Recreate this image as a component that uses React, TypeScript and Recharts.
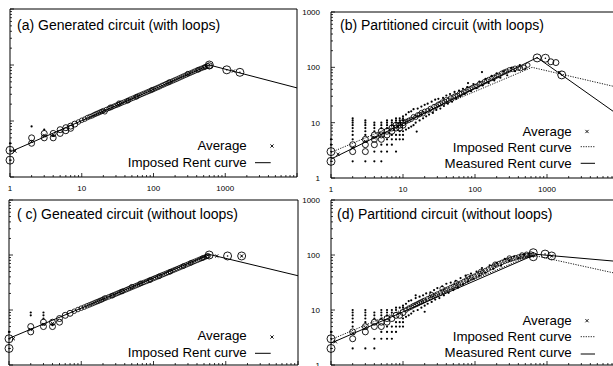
import React from 'react';
import { ScatterChart, Scatter, XAxis, YAxis } from 'recharts';

type P = [number, number];

// ---------- axis ticks ----------
const xTicks = [1, 2, 3, 4, 5, 6, 7, 8, 9, 10, 20, 30, 40, 50, 60, 70, 80, 90, 100, 200, 300, 400, 500, 600, 700, 800, 900, 1000, 2000, 3000, 4000, 5000, 6000, 7000, 8000, 9000, 10000];
const yTicks = [1, 2, 3, 4, 5, 6, 7, 8, 9, 10, 20, 30, 40, 50, 60, 70, 80, 90, 100, 200, 300, 400, 500, 600, 700, 800, 900, 1000];
const xLabels = [1, 10, 100, 1000];
const yLabels = [1, 10, 100, 1000];

// ---------- panel (a) ----------
const aImposed: P[] = [[1, 2.8], [600, 100], [10000, 39]];
const aBig: P[] = [[1, 3], [1, 2], [600, 100], [1050, 82], [1600, 74]];
const aMed: P[] = [[2, 5], [2, 4], [3, 6], [3, 5], [4, 6], [4, 5], [5, 7], [5, 6], [6, 7.6], [6, 6.7], [7, 8.1], [7, 7.4], [8, 8.8], [600, 97]];
const aSmall: P[] = [[9, 9.6], [10, 10.3], [11, 10.8], [12, 11.5], [13, 12], [14, 12.4], [15, 13], [16, 13.5], [17, 13.9], [18, 14.4], [19, 14.8], [20, 15.3], [21, 14.6], [22, 16], [24, 16.8], [25, 17.6], [26, 17.5], [28, 18.3], [30, 19], [32, 19.6], [33, 20.8], [34, 20.3], [36, 21], [39, 21.8], [42, 22.7], [44, 23], [45, 23.6], [48, 24.6], [52, 25.6], [56, 26.7], [58, 27], [60, 27.8], [64, 28.8], [69, 30], [74, 31.2], [80, 32.5], [86, 33.8], [92, 35], [95, 36], [99, 36.5], [106, 38], [114, 39.5], [122, 41], [131, 43], [140, 44.5], [150, 46.5], [160, 48], [165, 49.5], [172, 50], [185, 52], [198, 54], [212, 56], [228, 58.5], [245, 61], [262, 63.5], [282, 66], [300, 70], [303, 69], [325, 71.5], [350, 74.5], [375, 77.5], [405, 81], [420, 82], [435, 84], [465, 87], [500, 90], [520, 92], [535, 93.5], [570, 97]];
const aDots: P[] = [[1, 4], [2, 8], [3, 7], [4, 5.4]];
const aAvg: P[] = [[1.17, 2.9], [2, 4.3], [3, 5.5], [4, 5.6], [1300, 78]];

// ---------- panel (b) ----------
const bImposed: P[] = [[1, 2.9], [620, 100], [10000, 43]];
const bMeasured: P[] = [[1, 2.2], [730, 150], [10000, 13.5]];
const bBig: P[] = [[1, 2], [1, 3], [730, 148], [950, 146], [1600, 73]];
const bMed: P[] = [[2, 3], [2, 4], [3, 3], [3, 4], [3, 5], [4, 4], [4, 5], [4, 6], [5, 5], [5, 6], [5, 7], [6, 6], [6, 7], [7, 7], [7, 8], [8, 8], [8, 9], [9, 8], [9, 9], [10, 9], [10, 10], [1130, 126], [1330, 122]];
const bSmall: P[] = [[11, 10.5], [12, 11], [13, 11.5], [14, 12.8], [15, 12.5], [16, 13.8], [17, 14], [18, 15.2], [19, 14.5], [20, 16], [22, 16.5], [24, 18], [25, 17], [27, 19.5], [29, 20], [31, 21.5], [33, 22], [35, 23.5], [38, 24], [40, 26], [43, 25.5], [46, 28], [50, 29], [53, 30.5], [57, 31], [61, 33.5], [65, 34], [70, 36], [75, 37], [80, 40], [86, 41], [92, 43], [100, 45], [107, 46], [115, 50], [125, 51], [135, 55], [145, 57], [155, 60], [170, 63], [185, 66], [200, 70], [215, 72], [235, 78], [255, 82], [275, 85], [300, 90], [330, 92], [360, 96], [400, 97], [430, 95], [480, 100], [540, 110]];
const bDots: P[] = [
  [1, 4], [1, 5],
  [2, 2], [2, 5], [2, 6], [2, 7], [2, 8], [2, 9], [2, 10], [2, 11], [2, 12],
  [3, 2], [3, 6], [3, 7], [3, 8], [3, 9], [3, 10], [3, 11],
  [4, 2], [4, 3], [4, 7], [4, 8], [4, 9], [4, 10],
  [5, 2], [5, 3], [5, 4], [5, 8], [5, 9], [5, 10],
  [6, 3], [6, 4], [6, 5], [6, 8], [6, 9], [6, 10], [6, 11],
  [7, 4], [7, 5], [7, 6], [7, 9], [7, 10], [7, 11],
  [8, 3], [8, 5], [8, 6], [8, 10], [8, 11], [8, 12],
  [9, 5], [9, 6], [9, 7], [9, 10], [9, 11], [9, 12],
  [10, 5], [10, 6], [10, 7], [10, 11], [10, 12], [10, 13],
  [11, 7.5], [11, 14], [12, 8], [12, 15.5], [13, 8.5], [13, 16], [14, 9], [14, 17.5], [15.5, 6.9], [15, 10], [16, 18], [17, 11], [18, 19.5], [19, 12], [20, 21], [21, 13], [22, 22], [23, 14], [25, 24], [26, 15], [28, 26], [29, 17], [31, 27], [33, 18], [36, 28], [37, 20], [40, 31], [42, 22], [45, 33], [48, 24], [52, 36], [55, 27], [60, 38], [63, 30], [68, 41], [72, 33], [80, 52], [78, 44], [88, 37], [95, 50], [105, 42], [115, 55], [125, 82], [128, 47], [140, 62], [155, 52], [170, 70], [185, 58], [200, 78], [225, 65], [250, 85], [280, 72], [320, 98], [360, 85], [420, 110], [500, 95]
];
const bAvg: P[] = [[1.25, 2.7], [2, 3.6], [3, 4.6], [4, 5.3], [5, 6], [1500, 80]];

// ---------- panel (c) ----------
const cImposed: P[] = [[1, 3.05], [600, 102], [10000, 42]];
const cBig: P[] = [[1, 3], [1, 2], [590, 100], [1060, 96], [1660, 96]];
const cMed: P[] = [[2, 5], [2, 4], [3, 6], [3, 5], [4, 6], [4, 5], [5, 7], [5, 6], [6, 8], [7, 8.7]];
const cSmall: P[] = [[8, 9.5], [9, 10.2], [10, 10.8], [11, 11.3], [12, 11.9], [13, 12.4], [14, 12.9], [15, 13.4], [16, 13.9], [17, 14.3], [18, 14.8], [19, 15.2], [20, 15.7], [21, 16.4], [22, 16.6], [24, 17.3], [26, 18.1], [27, 18.2], [28, 18.8], [30, 19.5], [32, 20.2], [34, 20.9], [36, 21.6], [37, 21.8], [39, 22.5], [42, 23.4], [45, 24.3], [48, 25.2], [50, 26.5], [52, 26.3], [56, 27.4], [60, 28.4], [64, 29.4], [66, 30.5], [69, 30.6], [74, 31.8], [80, 33.1], [86, 34.4], [90, 35], [92, 35.7], [99, 37.2], [106, 38.6], [114, 40.1], [120, 41], [122, 41.6], [131, 43.3], [140, 44.8], [150, 46.5], [160, 48.2], [170, 49.5], [172, 50.1], [185, 52.2], [198, 54.2], [212, 56.3], [228, 58.6], [245, 61], [260, 63], [262, 63.2], [282, 65.8], [303, 68.5], [325, 71.2], [330, 72], [350, 74.2], [375, 77], [405, 80.2], [435, 83.4], [465, 86.5], [480, 88], [500, 90], [535, 93.3], [550, 95], [570, 97]];
const cDots: P[] = [[1, 4], [2, 9], [2, 8], [3, 9], [3, 8], [3, 7], [4, 5.3]];
const cAvg: P[] = [[1.15, 3], [2, 4.4], [3, 5.5], [4, 5.7], [750, 96], [1660, 96]];

// ---------- panel (d) ----------
const dImposed: P[] = [[1, 2.9], [620, 100], [10000, 45]];
const dMeasured: P[] = [[1, 2.5], [700, 103], [10000, 76]];
const dBig: P[] = [[1, 3], [1, 2], [645, 110], [645, 93], [940, 104], [1160, 96]];
const dMed: P[] = [[2, 3], [2, 4], [3, 4], [3, 5], [4, 5], [4, 6], [5, 5], [5, 6], [6, 6], [6, 7], [7, 7], [8, 8], [9, 8], [10, 9]];
const dSmall: P[] = [[11, 10], [12, 10.8], [13, 11.3], [14, 12], [15, 12.5], [16, 13], [17, 13.6], [18, 14], [19, 14.6], [20, 15], [22, 16], [24, 16.8], [25, 19], [26, 17.8], [28, 18.5], [30, 19.5], [33, 20.5], [35, 24.5], [36, 21.8], [39, 23], [42, 24], [46, 25.5], [50, 26.8], [54, 28], [55, 31], [59, 29.5], [64, 31], [70, 33], [76, 35], [80, 40], [83, 37], [90, 39], [98, 41], [107, 43.5], [117, 46], [120, 50], [128, 49], [140, 52], [153, 55.5], [167, 59], [182, 62.5], [190, 68], [199, 66], [217, 70], [237, 73.5], [259, 77], [283, 80], [300, 88], [309, 83], [337, 86], [368, 89], [402, 92], [440, 94], [450, 100], [480, 96], [520, 103], [525, 98], [575, 99], [600, 104]];
const dDots: P[] = [
  [1, 4],
  [2, 2], [2, 5], [2, 6], [2, 7], [2, 8], [2, 9], [2, 10],
  [3, 2], [3, 6], [3, 7], [3, 8], [3, 9], [3, 10],
  [4, 2], [4, 3], [4, 7], [4, 8], [4, 9],
  [5, 3], [5, 4], [5, 7], [5, 8], [5, 9], [5, 10],
  [6, 3], [6, 4], [6, 5], [6, 8], [6, 9], [6, 10],
  [7, 3], [7, 4], [7, 5], [7, 9], [7, 10],
  [8, 4], [8, 5], [8, 6], [8, 10], [8, 11],
  [9, 5], [9, 6], [9, 11],
  [10, 5], [10, 6], [10, 7], [10, 11], [10, 12],
  [11, 7.5], [11, 13], [12, 8], [12, 14.5], [13, 8.6], [13, 15], [14, 9.5], [15, 16.5], [15, 18.5], [16, 10], [17, 17.5], [18, 11], [19, 18.5], [20, 12], [20, 9.3], [21, 20], [22, 13], [24, 21], [25, 14], [27, 23], [28, 15.5], [30, 25], [32, 16.5], [35, 27], [37, 18.5], [40, 30], [43, 20.5], [46, 31.5], [50, 23], [54, 34], [58, 25.5], [63, 38], [68, 29], [74, 42], [80, 33], [88, 46], [95, 37], [105, 50], [115, 42], [125, 58], [140, 48], [160, 65], [180, 56], [200, 72], [230, 64], [260, 85], [300, 78], [350, 95], [400, 88], [480, 102]
];
const dAvg: P[] = [[1.15, 2.65], [2, 3.8], [3, 4.8], [1160, 96]];

// ---------- rendering helpers ----------
const FONT = '"Liberation Sans", Arial, Helvetica, sans-serif';
const INK = '#000';

const toPts = (arr: P[]) => arr.map(([x, y]) => ({ x, y }));
const isDecade = (v: number) => Math.abs(Math.log10(v) - Math.round(Math.log10(v))) < 1e-9;

const bigShape = (p: any) => (
  <g>
    <circle cx={p.cx} cy={p.cy} r={4} fill="none" stroke={INK} strokeWidth={0.9} />
    <circle cx={p.cx} cy={p.cy} r={0.8} fill={INK} />
  </g>
);
const medShape = (p: any) => <circle cx={p.cx} cy={p.cy} r={3} fill="none" stroke={INK} strokeWidth={0.9} />;
const smallShape = (p: any) => <circle cx={p.cx} cy={p.cy} r={2.3} fill="none" stroke={INK} strokeWidth={0.8} />;
const dotShape = (p: any) => <circle cx={p.cx} cy={p.cy} r={1.1} fill={INK} />;
const avgShape = (p: any) => (
  <g stroke={INK} strokeWidth={0.9}>
    <line x1={p.cx - 1.6} y1={p.cy - 1.6} x2={p.cx + 1.6} y2={p.cy + 1.6} />
    <line x1={p.cx - 1.6} y1={p.cy + 1.6} x2={p.cx + 1.6} y2={p.cy - 1.6} />
  </g>
);
const noShape = () => <g />;

const XTick = (p: any, side: 'bottom' | 'top', showLabel: boolean) => {
  const v = p.payload.value;
  const major = isDecade(v);
  const len = major ? 4 : 2;
  const dir = side === 'bottom' ? -1 : 1;
  return (
    <g>
      <line x1={p.x} x2={p.x} y1={p.y} y2={p.y + dir * len} stroke={INK} strokeWidth={0.8} />
      {showLabel && side === 'bottom' && xLabels.includes(v) ? (
        <text x={p.x} y={p.y + 13.5} textAnchor="middle" fontSize={8} fontFamily={FONT} fill={INK}>{v}</text>
      ) : null}
    </g>
  );
};
const YTick = (p: any, side: 'left' | 'right', showLabel: boolean) => {
  const v = p.payload.value;
  const major = isDecade(v);
  const len = major ? 4 : 2;
  const dir = side === 'left' ? 1 : -1;
  return (
    <g>
      <line x1={p.x} x2={p.x + dir * len} y1={p.y} y2={p.y} stroke={INK} strokeWidth={0.8} />
      {showLabel && side === 'left' && yLabels.includes(v) ? (
        <text x={p.x - 11} y={p.y + 3} textAnchor="end" fontSize={8} fontFamily={FONT} fill={INK}>{v}</text>
      ) : null}
    </g>
  );
};

type PanelProps = {
  left: number; top: number; width: number; height: number;
  margin: { top: number; right: number; bottom: number; left: number };
  showX: boolean; showY: boolean;
  imposed: P[]; measured?: P[]; big: P[]; med: P[]; small: P[]; dots: P[]; avg: P[];
};

// margin passed in is the frame inset; each of the 4 axes takes 1px of it
function Panel(pp: PanelProps) {
  const dashed = !!pp.measured;
  const m = { top: pp.margin.top - 1, right: pp.margin.right - 1, bottom: pp.margin.bottom - 1, left: pp.margin.left - 1 };
  return (
    <div style={{ position: 'absolute', left: pp.left, top: pp.top }}>
      <ScatterChart width={pp.width} height={pp.height} margin={m}>
        <XAxis xAxisId="b" dataKey="x" type="number" scale="log" domain={[1, 10000]} ticks={xTicks} interval={0}
          orientation="bottom" height={1} tickSize={0} tickMargin={0} tickLine={false}
          axisLine={{ stroke: INK, strokeWidth: 1 }} tick={(p: any) => XTick(p, 'bottom', pp.showX)} />
        <XAxis xAxisId="t" dataKey="x" type="number" scale="log" domain={[1, 10000]} ticks={xTicks} interval={0}
          orientation="top" height={1} tickSize={0} tickMargin={0} tickLine={false}
          axisLine={{ stroke: INK, strokeWidth: 1 }} tick={(p: any) => XTick(p, 'top', false)} />
        <YAxis yAxisId="l" dataKey="y" type="number" scale="log" domain={[1, 1000]} ticks={yTicks} interval={0}
          orientation="left" width={1} tickSize={0} tickMargin={0} tickLine={false}
          axisLine={{ stroke: INK, strokeWidth: 1 }} tick={(p: any) => YTick(p, 'left', pp.showY)} />
        <YAxis yAxisId="r" dataKey="y" type="number" scale="log" domain={[1, 1000]} ticks={yTicks} interval={0}
          orientation="right" width={1} tickSize={0} tickMargin={0} tickLine={false}
          axisLine={{ stroke: INK, strokeWidth: 1 }} tick={(p: any) => YTick(p, 'right', false)} />
        <Scatter xAxisId="b" yAxisId="l" data={toPts(pp.imposed)} shape={noShape} isAnimationActive={false}
          line={{ stroke: INK, strokeWidth: dashed ? 0.9 : 1, strokeDasharray: dashed ? '1.2 1.3' : undefined }} />
        {pp.measured ? (
          <Scatter xAxisId="b" yAxisId="l" data={toPts(pp.measured)} shape={noShape} isAnimationActive={false}
            line={{ stroke: INK, strokeWidth: 1 }} />
        ) : null}
        <Scatter xAxisId="b" yAxisId="l" data={toPts(pp.dots)} shape={dotShape} isAnimationActive={false} />
        <Scatter xAxisId="b" yAxisId="l" data={toPts(pp.small)} shape={smallShape} isAnimationActive={false} />
        <Scatter xAxisId="b" yAxisId="l" data={toPts(pp.med)} shape={medShape} isAnimationActive={false} />
        <Scatter xAxisId="b" yAxisId="l" data={toPts(pp.big)} shape={bigShape} isAnimationActive={false} />
        <Scatter xAxisId="b" yAxisId="l" data={toPts(pp.avg)} shape={avgShape} isAnimationActive={false} />
      </ScatterChart>
    </div>
  );
}

const Cross = ({ x, y }: { x: number; y: number }) => (
  <g stroke={INK} strokeWidth={0.9}>
    <line x1={x - 1.6} y1={y - 1.6} x2={x + 1.6} y2={y + 1.6} />
    <line x1={x - 1.6} y1={y + 1.6} x2={x + 1.6} y2={y - 1.6} />
  </g>
);

export default function App() {
  const t = { fontFamily: FONT, fill: INK } as const;
  return (
    <div style={{ position: 'fixed', left: 0, top: 0, width: 613, height: 366, overflow: 'hidden', background: '#fff' }}>
      <Panel left={0} top={0} width={310} height={200} margin={{ top: 9, right: 13, bottom: 23, left: 10 }}
        showX={true} showY={false} imposed={aImposed} big={aBig} med={aMed} small={aSmall} dots={aDots} avg={aAvg} />
      <Panel left={300} top={0} width={330} height={200} margin={{ top: 12, right: 11, bottom: 22, left: 31 }}
        showX={true} showY={true} imposed={bImposed} measured={bMeasured} big={bBig} med={bMed} small={bSmall} dots={bDots} avg={bAvg} />
      <Panel left={0} top={190} width={310} height={190} margin={{ top: 10, right: 12, bottom: 15, left: 9 }}
        showX={false} showY={false} imposed={cImposed} big={cBig} med={cMed} small={cSmall} dots={cDots} avg={cAvg} />
      <Panel left={300} top={190} width={330} height={190} margin={{ top: 10, right: 11, bottom: 15, left: 31 }}
        showX={false} showY={true} imposed={dImposed} measured={dMeasured} big={dBig} med={dMed} small={dSmall} dots={dDots} avg={dAvg} />
      <svg width={613} height={366} style={{ position: 'absolute', left: 0, top: 0, pointerEvents: 'none' }}>
        <text x={17} y={30} fontSize={14} {...t}>(a) Generated circuit (with loops)</text>
        <text x={340} y={30} fontSize={14} {...t}>(b) Partitioned circuit (with loops)</text>
        <text x={17} y={219} fontSize={14} {...t}>( c) Geneated circuit (without loops)</text>
        <text x={337} y={219} fontSize={14} {...t}>(d) Partitiond circuit (without loops)</text>
        <text x={246.7} y={150} fontSize={13.3} textAnchor="end" {...t}>Average</text>
        <Cross x={272} y={146} />
        <text x={246.7} y={166.7} fontSize={13.3} textAnchor="end" {...t}>Imposed Rent curve</text>
        <line x1={255} x2={270.7} y1={162.7} y2={162.7} stroke={INK} strokeWidth={1} />
        <text x={571.7} y={136} fontSize={13.3} textAnchor="end" {...t}>Average</text>
        <Cross x={587} y={131.5} />
        <text x={571.7} y={151.7} fontSize={13.3} textAnchor="end" {...t}>Imposed Rent curve</text>
        <line x1={580.7} x2={595} y1={146.7} y2={146.7} stroke={INK} strokeWidth={0.9} strokeDasharray="1.2 1.3" />
        <text x={571.7} y={168} fontSize={13.3} textAnchor="end" {...t}>Measured Rent curve</text>
        <line x1={580.7} x2={595} y1={163.3} y2={163.3} stroke={INK} strokeWidth={1} />
        <text x={246.7} y={340} fontSize={13.3} textAnchor="end" {...t}>Average</text>
        <Cross x={272} y={337} />
        <text x={246.7} y={356.7} fontSize={13.3} textAnchor="end" {...t}>Imposed Rent curve</text>
        <line x1={255} x2={270.7} y1={353.3} y2={353.3} stroke={INK} strokeWidth={1} />
        <text x={571.7} y={325} fontSize={13.3} textAnchor="end" {...t}>Average</text>
        <Cross x={587} y={320.7} />
        <text x={571.7} y={340.7} fontSize={13.3} textAnchor="end" {...t}>Imposed Rent curve</text>
        <line x1={580.7} x2={595} y1={336.7} y2={336.7} stroke={INK} strokeWidth={0.9} strokeDasharray="1.2 1.3" />
        <text x={571.7} y={357} fontSize={13.3} textAnchor="end" {...t}>Measured Rent curve</text>
        <line x1={580.7} x2={595} y1={354} y2={354} stroke={INK} strokeWidth={1} />
      </svg>
    </div>
  );
}
